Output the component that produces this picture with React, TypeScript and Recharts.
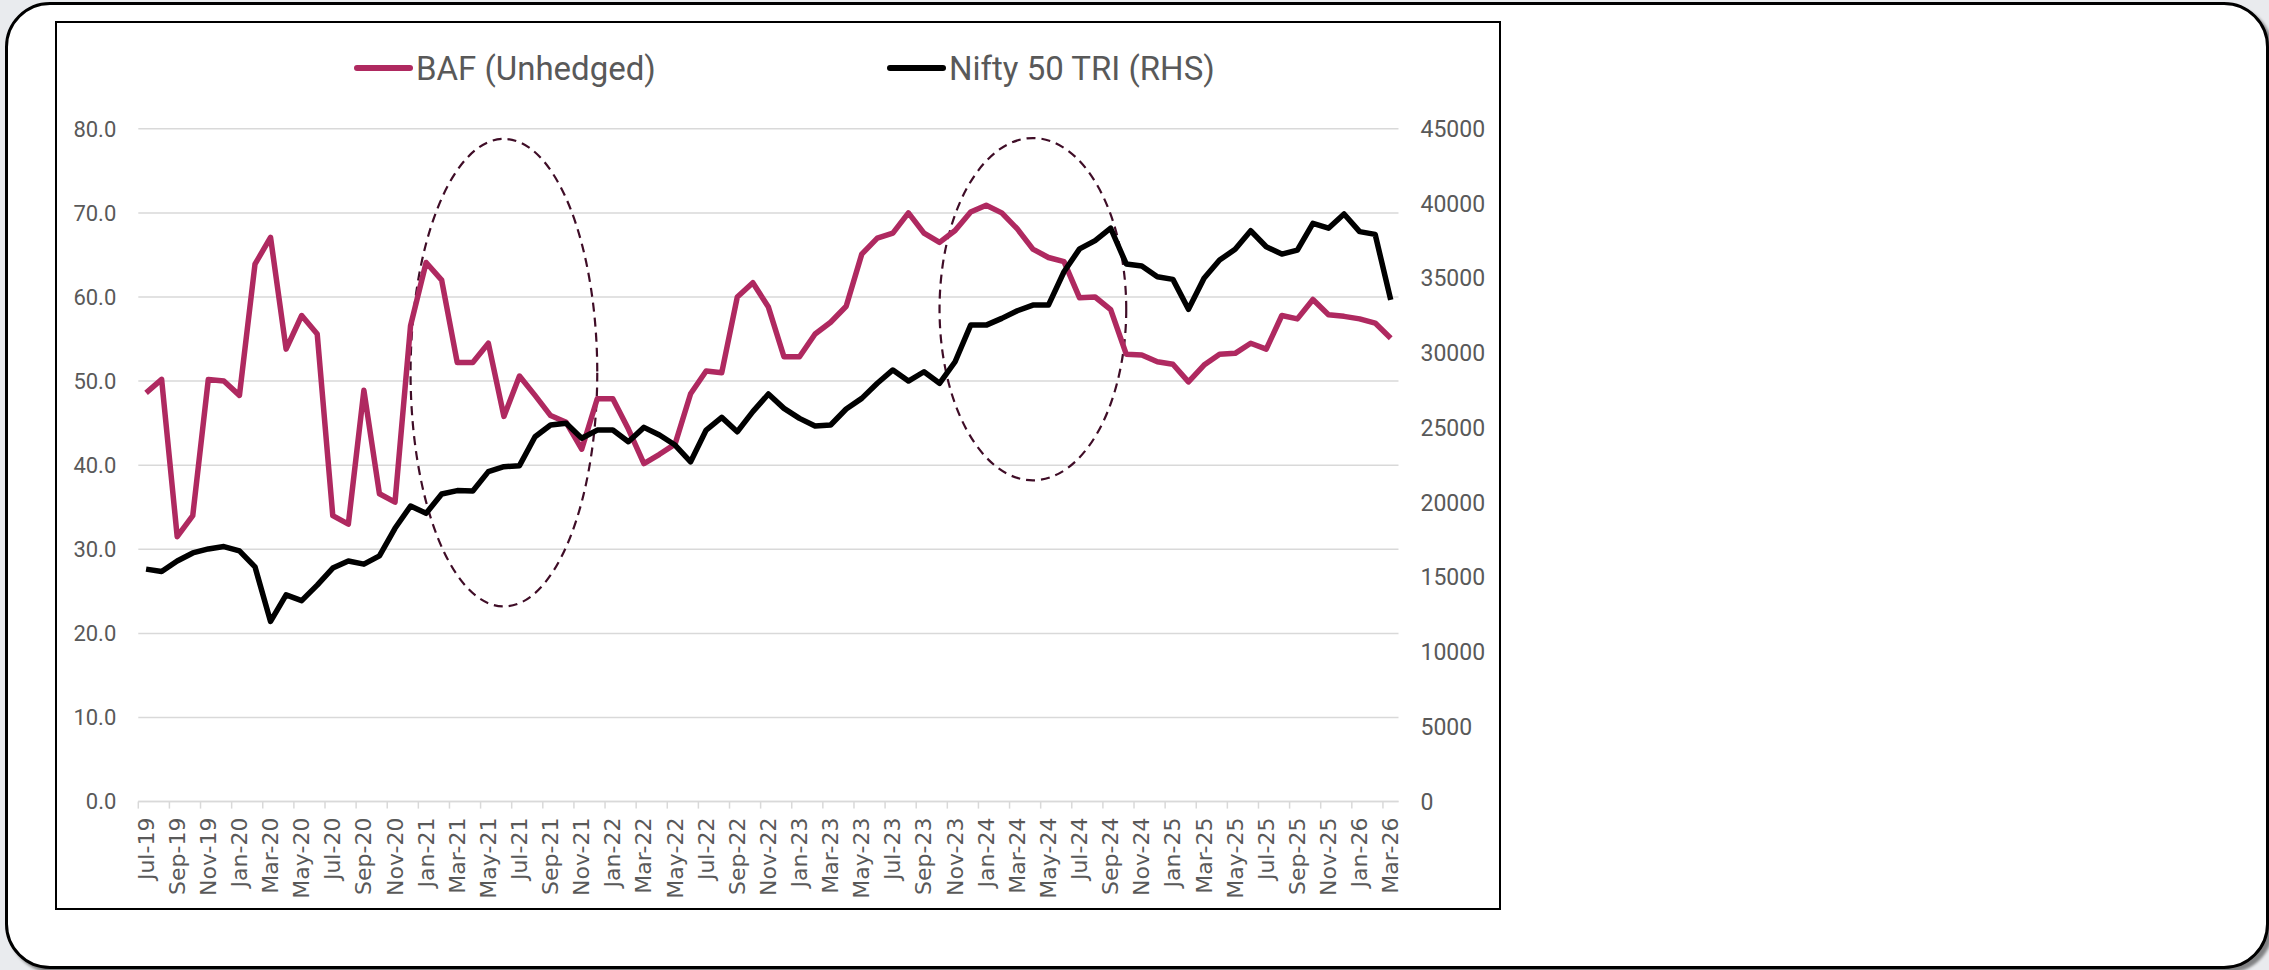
import { LineChart, Line, XAxis, YAxis, CartesianGrid, ReferenceArea } from 'recharts';

const months = [
  'Jul-19', 'Aug-19', 'Sep-19', 'Oct-19', 'Nov-19', 'Dec-19',
  'Jan-20', 'Feb-20', 'Mar-20', 'Apr-20', 'May-20', 'Jun-20', 'Jul-20', 'Aug-20', 'Sep-20', 'Oct-20', 'Nov-20', 'Dec-20',
  'Jan-21', 'Feb-21', 'Mar-21', 'Apr-21', 'May-21', 'Jun-21', 'Jul-21', 'Aug-21', 'Sep-21', 'Oct-21', 'Nov-21', 'Dec-21',
  'Jan-22', 'Feb-22', 'Mar-22', 'Apr-22', 'May-22', 'Jun-22', 'Jul-22', 'Aug-22', 'Sep-22', 'Oct-22', 'Nov-22', 'Dec-22',
  'Jan-23', 'Feb-23', 'Mar-23', 'Apr-23', 'May-23', 'Jun-23', 'Jul-23', 'Aug-23', 'Sep-23', 'Oct-23', 'Nov-23', 'Dec-23',
  'Jan-24', 'Feb-24', 'Mar-24', 'Apr-24', 'May-24', 'Jun-24', 'Jul-24', 'Aug-24', 'Sep-24', 'Oct-24', 'Nov-24', 'Dec-24',
  'Jan-25', 'Feb-25', 'Mar-25', 'Apr-25', 'May-25', 'Jun-25', 'Jul-25', 'Aug-25', 'Sep-25', 'Oct-25', 'Nov-25', 'Dec-25',
  'Jan-26', 'Feb-26', 'Mar-26',
];

// BAF (Unhedged) equity level, left axis
const bafUnhedged = [
  48.6, 50.2, 31.5, 34.0, 50.2, 50.0, 48.3, 63.9, 67.1, 53.8, 57.8, 55.6,
  34.0, 33.0, 48.9, 36.6, 35.6, 56.6, 64.1, 62.0, 52.2, 52.2, 54.5, 45.8,
  50.6, 48.3, 45.9, 45.1, 41.9, 47.9, 47.9, 44.3, 40.2, 41.3, 42.5, 48.5,
  51.2, 51.0, 60.0, 61.7, 58.8, 52.9, 52.9, 55.6, 57.0, 58.9, 65.1, 67.0,
  67.6, 70.0, 67.6, 66.5, 67.9, 70.1, 70.9, 70.0, 68.1, 65.7, 64.7, 64.2,
  59.9, 60.0, 58.5, 53.2, 53.1, 52.3, 52.0, 49.9, 51.9, 53.2, 53.3, 54.5,
  53.8, 57.8, 57.4, 59.7, 57.9, 57.7, 57.4, 56.9, 55.1,
];

// Nifty 50 TRI, right axis
const nifty50Tri = [
  15550, 15390, 16090, 16630, 16900, 17060, 16770, 15700, 12050, 13830, 13440, 14480,
  15620, 16090, 15880, 16440, 18280, 19770, 19280, 20570, 20800, 20780, 22070, 22400,
  22470, 24400, 25190, 25300, 24300, 24850, 24850, 24070, 25030, 24520, 23850, 22730,
  24850, 25700, 24740, 26080, 27260, 26300, 25630, 25120, 25190, 26260, 26970, 27980,
  28870, 28130, 28750, 27980, 29420, 31870, 31870, 32320, 32830, 33210, 33210, 35440,
  36970, 37520, 38350, 35960, 35820, 35110, 34930, 32930, 35000, 36220, 36940, 38180,
  37110, 36620, 36890, 38680, 38350, 39300, 38120, 37940, 33550,
];

const leftTicks = [0, 10, 20, 30, 40, 50, 60, 70, 80];
const rightTicks = [0, 5000, 10000, 15000, 20000, 25000, 30000, 35000, 40000, 45000];

// dashed ellipses drawn over the chart (category range, left-axis range)
const highlights = [
  { x1: 'Dec-20', x2: 'Dec-21', y1: 23.2, y2: 78.8 },
  { x1: 'Oct-23', x2: 'Oct-24', y1: 38.2, y2: 78.9 },
];

const BAF_COLOR = '#AF2960';
const NIFTY_COLOR = '#000000';
const TEXT = '#595959';
const GRID = '#d9d9d9';

const PAGE_W = 2269;
const PAGE_H = 970;
const PLOT = { left: 138.3, top: 128.8, right: 1398.5, bottom: 801.6 };
const RIGHT_AXIS_W = 100;
const X_AXIS_H = 120;
const STEP = (PLOT.right - PLOT.left) / months.length;

const data = months.map((m, i) => ({ month: m, baf: bafUnhedged[i], nifty: nifty50Tri[i] }));

function MonthTick(props: any) {
  const { x, y, payload } = props;
  const ty = y + 16;
  return (
    <g>
      <line x1={x - STEP / 2} x2={x - STEP / 2} y1={y} y2={y + 7} stroke={GRID} strokeWidth={1.5} />
      <text
        x={x}
        y={ty}
        transform={`rotate(-90 ${x} ${ty})`}
        textAnchor="end"
        dominantBaseline="central"
        fill={TEXT}
        fontSize={22}
        fontFamily="'DejaVu Sans', sans-serif"
      >
        {payload.value}
      </text>
    </g>
  );
}

function DashedEllipse(props: any) {
  const { x, y, width, height } = props;
  return (
    <ellipse
      cx={x + width / 2}
      cy={y + height / 2}
      rx={width / 2}
      ry={height / 2}
      fill="none"
      stroke="#3f0d27"
      strokeWidth={2.2}
      strokeDasharray="9 6"
    />
  );
}

function LegendRow() {
  const items = [
    { label: 'BAF (Unhedged)', color: BAF_COLOR, x: 357 },
    { label: 'Nifty 50 TRI (RHS)', color: NIFTY_COLOR, x: 890 },
  ];
  return (
    <svg width={PAGE_W} height={120} style={{ position: 'absolute', left: 0, top: 0 }}>
      {items.map((it) => (
        <g key={it.label}>
          <line x1={it.x} x2={it.x + 53} y1={68} y2={68} stroke={it.color} strokeWidth={6} strokeLinecap="round" />
          <text x={it.x + 59} y={68} dominantBaseline="central" fill={TEXT} fontSize={33} fontFamily="Roboto, sans-serif">
            {it.label}
          </text>
        </g>
      ))}
    </svg>
  );
}

export default function App() {
  return (
    <div
      style={{
        position: 'absolute',
        left: 0,
        top: 0,
        width: PAGE_W,
        height: PAGE_H,
        background: '#e9ebee',
        fontFamily: 'Roboto, sans-serif',
        overflow: 'hidden',
      }}
    >
      <div
        style={{
          position: 'absolute',
          left: 5,
          top: 2,
          width: 2258,
          height: 961,
          border: '3px solid #000',
          borderRadius: 45,
          background: '#fff',
          boxShadow: '4px 4px 3px rgba(0,0,0,0.45)',
        }}
      />
      <div
        style={{
          position: 'absolute',
          left: 55,
          top: 21,
          width: 1442,
          height: 885,
          border: '2px solid #000',
          background: '#fff',
        }}
      />
      <LegendRow />
      <div style={{ position: 'absolute', left: 0, top: 0 }}>
        <LineChart
          width={PAGE_W}
          height={PAGE_H}
          data={data}
          margin={{
            top: PLOT.top,
            left: 0,
            right: PAGE_W - PLOT.right - RIGHT_AXIS_W,
            bottom: PAGE_H - PLOT.bottom - X_AXIS_H,
          }}
        >
          <CartesianGrid yAxisId="left" vertical={false} stroke={GRID} strokeWidth={1.5} />
          <XAxis
            dataKey="month"
            interval={1}
            height={X_AXIS_H}
            padding={{ left: STEP / 2, right: STEP / 2 }}
            axisLine={{ stroke: GRID, strokeWidth: 1.5 }}
            tickLine={false}
            tickSize={0}
            tickMargin={0}
            tick={<MonthTick />}
          />
          <YAxis
            yAxisId="left"
            width={PLOT.left}
            domain={[0, 80]}
            ticks={leftTicks}
            tickFormatter={(v: number) => v.toFixed(1)}
            axisLine={false}
            tickLine={false}
            tickSize={0}
            tickMargin={22}
            tick={{ fill: TEXT, fontSize: 22, fontFamily: 'Roboto, sans-serif' }}
          />
          <YAxis
            yAxisId="right"
            orientation="right"
            width={RIGHT_AXIS_W}
            domain={[0, 45000]}
            ticks={rightTicks}
            axisLine={false}
            tickLine={false}
            tickSize={0}
            tickMargin={22}
            tick={{ fill: TEXT, fontSize: 23, fontFamily: 'Roboto, sans-serif' }}
          />
          <Line
            yAxisId="left"
            dataKey="baf"
            name="BAF (Unhedged)"
            stroke={BAF_COLOR}
            strokeWidth={5.5}
            strokeLinejoin="round"
            dot={false}
            isAnimationActive={false}
          />
          <Line
            yAxisId="right"
            dataKey="nifty"
            name="Nifty 50 TRI (RHS)"
            stroke={NIFTY_COLOR}
            strokeWidth={5.5}
            strokeLinejoin="round"
            dot={false}
            isAnimationActive={false}
          />
          {highlights.map((h) => (
            <ReferenceArea
              key={h.x1}
              yAxisId="left"
              x1={h.x1}
              x2={h.x2}
              y1={h.y1}
              y2={h.y2}
              ifOverflow="visible"
              shape={<DashedEllipse />}
            />
          ))}
        </LineChart>
      </div>
    </div>
  );
}
